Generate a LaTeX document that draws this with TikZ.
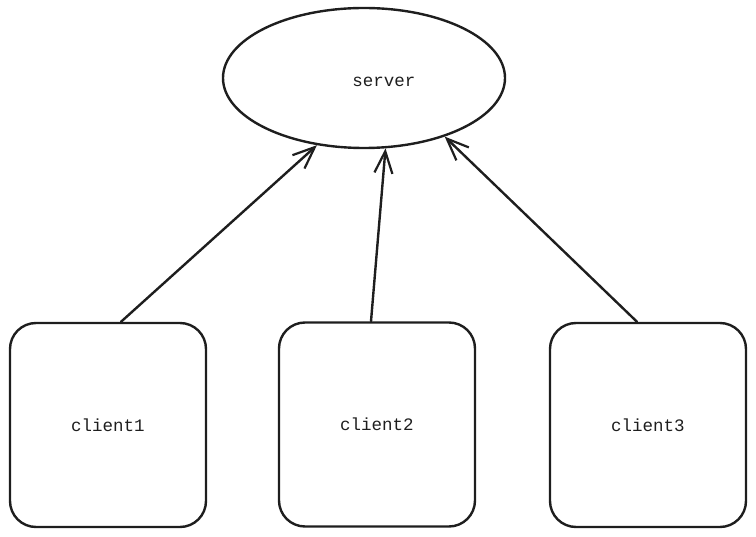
\documentclass[tikz,border=0pt]{standalone}
\usepackage{fontspec}
\setmonofont{Liberation Mono}
\usetikzlibrary{shapes.geometric,arrows.meta}
\definecolor{ink}{HTML}{1E1E1E}
\begin{document}
\begin{tikzpicture}[x=1pt,y=-1pt,
  line width=2.2pt, draw=ink,
  label text/.style={font=\ttfamily\fontsize{17.5}{20}\selectfont, text=ink},
  hub/.style={ellipse, draw=ink, line width=2.4pt, minimum width=282pt, minimum height=140pt, inner sep=0pt, label text},
  clientbox/.style={rectangle, draw=ink, line width=2.4pt, rounded corners=26pt, minimum width=196pt, minimum height=204pt, inner sep=0pt, label text},
  link/.style={ink, line width=2.4pt, line cap=round, -{Straight Barb[length=22pt,width=18pt,line width=2.2pt]}}
]
\useasboundingbox (0,0) rectangle (756,537);

% the server label sits a little right of and below the ellipse centre
\node[hub] (server) at (364,78) {\hspace*{40pt}\raisebox{-4pt}[\height][\depth]{server}};
\node[clientbox] (c1) at (108,425) {client1};
\node[clientbox] (c2) at (377,424.5) {client2};
\node[clientbox] (c3) at (648,425) {client3};

\draw[link] ([xshift=13pt]c1.north) -- (server.-125);
\draw[link] ([xshift=-6pt]c2.north) -- (server.-73);
\draw[link] ([xshift=-11pt]c3.north) -- (server.-36);
\end{tikzpicture}
\end{document}
